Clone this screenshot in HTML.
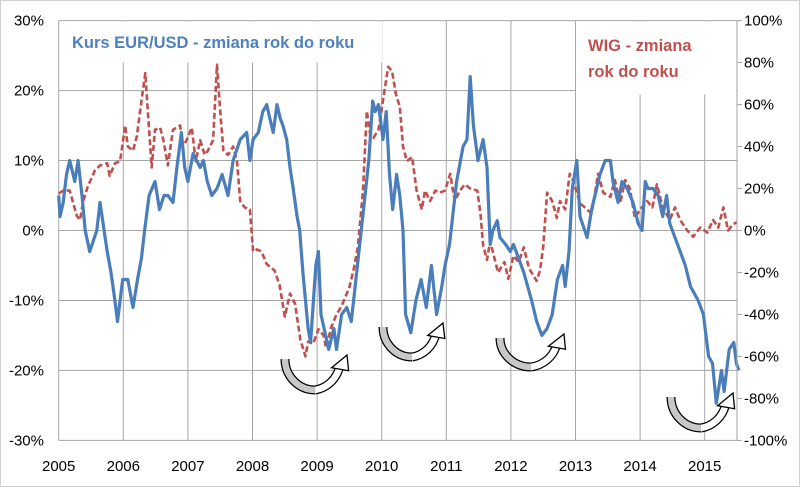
<!DOCTYPE html>
<html><head><meta charset="utf-8"><style>
html,body{margin:0;padding:0;background:#fff;}
svg{display:block;font-family:"Liberation Sans",sans-serif;}
</style></head><body>
<svg id="chart" width="800" height="487" viewBox="0 0 800 487">
<rect x="0.5" y="0.5" width="799" height="486" fill="#fff" stroke="#d0d0d0"/>
<g id="grid"></g>
<g id="series"></g>
<g id="axes"></g>
<g id="annot"></g>
</svg>
<script>
const years = [2005,2006,2007,2008,2009,2010,2011,2012,2013,2014,2015];
const leftTicks = [30,20,10,0,-10,-20,-30];
const rightTicks = [100,80,60,40,20,0,-20,-40,-60,-80,-100];
const eurDates = [2005.0,2005.02,2005.07,2005.12,2005.17,2005.25,2005.3,2005.36,2005.41,2005.48,2005.59,2005.64,2005.75,2005.81,2005.87,2005.91,2005.95,2005.99,2006.07,2006.15,2006.22,2006.28,2006.33,2006.4,2006.49,2006.56,2006.63,2006.69,2006.77,2006.83,2006.9,2006.95,2007.0,2007.08,2007.19,2007.24,2007.3,2007.37,2007.45,2007.53,2007.62,2007.7,2007.81,2007.91,2007.96,2008.01,2008.09,2008.16,2008.22,2008.27,2008.32,2008.38,2008.43,2008.47,2008.53,2008.58,2008.63,2008.69,2008.73,2008.78,2008.86,2008.9,2008.98,2009.02,2009.06,2009.18,2009.26,2009.3,2009.38,2009.46,2009.53,2009.6,2009.66,2009.73,2009.8,2009.86,2009.9,2009.95,2010.02,2010.07,2010.12,2010.17,2010.23,2010.28,2010.33,2010.37,2010.45,2010.53,2010.61,2010.69,2010.77,2010.85,2010.93,2010.98,2011.05,2011.16,2011.26,2011.32,2011.37,2011.42,2011.49,2011.57,2011.63,2011.68,2011.72,2011.79,2011.83,2011.92,2011.99,2012.04,2012.12,2012.2,2012.32,2012.4,2012.48,2012.56,2012.64,2012.72,2012.8,2012.84,2012.9,2012.95,2013.02,2013.07,2013.18,2013.25,2013.38,2013.46,2013.54,2013.58,2013.66,2013.72,2013.8,2013.89,2013.97,2014.03,2014.08,2014.12,2014.2,2014.28,2014.35,2014.41,2014.46,2014.54,2014.62,2014.7,2014.78,2014.9,2014.98,2015.06,2015.12,2015.18,2015.26,2015.3,2015.38,2015.45,2015.49,2015.53];
const eurValues = [5,2,4,8,10,7,10,5,0,-3,0,4,-3,-6,-10,-13,-10,-7,-7,-11,-7,-4,0,5,7,3,5,5,4,9,14,9,7,11,9,10,7,5,6,8,5,10,13,14,10,13,14,17,18,16,14,18,16,15,13,9,6,2,0,-6,-14,-16,-5,-3,-12,-17,-14,-17,-12,-11,-13,-7,-2,4,10,18.5,17,18,13,17,8,3,8,5,0,-12,-14.6,-10,-7,-11,-5,-12,-8,-5,-2,7,12,13,22,15,10,13,9,-2,0,1.4,-1,-2,-3,-2,-4,-6,-10,-13,-15,-14,-12,-7,-5,-8,-3,6,10,2,-1,3,8,10,10,7,4,7,6,4,1,0,7,6,6,5,2,5,1,-1,-3,-5,-8,-10,-12,-18,-19,-24.7,-20,-23,-17,-16,-19,-20];
const wigDates = [2005.0,2005.07,2005.17,2005.28,2005.33,2005.38,2005.45,2005.56,2005.64,2005.75,2005.79,2005.87,2005.95,2006.03,2006.07,2006.15,2006.21,2006.26,2006.34,2006.38,2006.44,2006.49,2006.57,2006.62,2006.69,2006.77,2006.88,2006.92,2006.98,2007.06,2007.12,2007.19,2007.26,2007.31,2007.39,2007.45,2007.5,2007.55,2007.62,2007.7,2007.76,2007.81,2007.88,2007.96,2008.01,2008.07,2008.14,2008.22,2008.34,2008.42,2008.5,2008.58,2008.66,2008.74,2008.82,2008.86,2008.94,2009.02,2009.1,2009.14,2009.22,2009.3,2009.38,2009.5,2009.57,2009.63,2009.71,2009.77,2009.82,2009.87,2009.95,2010.02,2010.1,2010.16,2010.22,2010.28,2010.33,2010.39,2010.47,2010.54,2010.62,2010.67,2010.75,2010.83,2010.9,2010.98,2011.06,2011.13,2011.21,2011.29,2011.37,2011.48,2011.53,2011.57,2011.63,2011.68,2011.72,2011.8,2011.9,2011.96,2012.04,2012.12,2012.2,2012.28,2012.4,2012.45,2012.5,2012.56,2012.64,2012.71,2012.76,2012.84,2012.91,2012.96,2013.07,2013.18,2013.25,2013.35,2013.43,2013.54,2013.61,2013.69,2013.77,2013.84,2013.92,2014.0,2014.11,2014.19,2014.26,2014.35,2014.46,2014.54,2014.62,2014.73,2014.82,2014.93,2015.04,2015.13,2015.21,2015.29,2015.36,2015.44,2015.5];
const wigValues = [17.6,19,19,7,5,14,21,28.6,31,32,26,32,33,50,40,38,45,57,75,57,30,48,49,43,31,48,50,40,43,49,33,43,36,38,43,79,57,38,36,40,33,14,11,10,-10,-9,-10,-16,-19,-26,-41,-30,-35,-52,-60,-53,-54,-47,-50,-56,-46,-40,-36,-27,-18,-8,19,57,46,44,48,62,78,76,65,59,40,33,35,19,10,19,14,19,18,19,27,14,19,22,20,19,8,-7,-14,-5,-10,-20,-15,-23,-12,-15,-8,-18,-24,-19,-8,18,14,6,14,10,27,24,13,10,8,27,18,16,24,13,24,20,6,10,14,11,22,11,5,11,5,0,-3,1.4,-1,5,1.4,11,0,3,4];

const NS='http://www.w3.org/2000/svg';
const X0=58.7, YW=64.6, PT=20.7, PB=440.5, PR=737;
function xs(t){return X0+(t-2005)*YW;}
function yl(v){return 230.5-(v)*(PB-PT)/60;}
function yr(v){return 230.5-(v)*(PB-PT)/200;}
function mk(tag,attrs,parent){const e=document.createElementNS(NS,tag);for(const k in attrs)e.setAttribute(k,attrs[k]);parent.appendChild(e);return e;}
const grid=document.getElementById('grid'),series=document.getElementById('series'),axes=document.getElementById('axes'),annot=document.getElementById('annot');

leftTicks.forEach(v=>{
  const l=mk('line',{x1:X0,x2:PR,y1:yl(v),y2:yl(v),stroke:'#a6a6a6','stroke-width':1},grid);
  
  
  const t=mk('text',{x:44,y:yl(v)+5,'text-anchor':'end','font-size':15,fill:'#000'},axes);
  t.textContent=v+'%';
  
  
});
years.forEach(y=>{
  const l=mk('line',{x1:xs(y),x2:xs(y),y1:PT,y2:PB,stroke:'#a6a6a6','stroke-width':1},grid);
  
  
  const t=mk('text',{x:xs(y),y:471,'text-anchor':'middle','font-size':15,fill:'#000'},axes);
  t.textContent=y;
  
  
});
rightTicks.forEach(v=>{
  const t=mk('text',{x:744,y:yr(v)+5,'text-anchor':'start','font-size':15,fill:'#000'},axes);
  t.textContent=v+'%';
  
  
  const k=mk('line',{x1:PR,x2:PR+5,y1:yr(v),y2:yr(v),stroke:'#a6a6a6'},axes);
  
  
});
const ra=mk('line',{x1:PR,x2:PR,y1:PT,y2:PB,stroke:'#a6a6a6'},axes);


// legend boxes
const lb1=mk('rect',{x:60,y:21.5,width:322,height:41,fill:'#fff'},grid);


const lb2=mk('rect',{x:576,y:21.5,width:160,height:73,fill:'#fff'},grid);



// series
let d='';eurDates.forEach((t,i)=>{d+=(i?'L':'M')+xs(t).toFixed(1)+' '+yl(eurValues[i]).toFixed(1);});
let dw='';wigDates.forEach((t,i)=>{dw+=(i?'L':'M')+xs(t).toFixed(1)+' '+yr(wigValues[i]).toFixed(1);});
const pw=mk('path',{d:dw,fill:'none',stroke:'#c0504d','stroke-width':2.6,'stroke-dasharray':'6 3','stroke-linejoin':'round'},series);


const pe=mk('path',{d:d,fill:'none',stroke:'#4a7ebb','stroke-width':3.2,'stroke-linejoin':'round'},series);



const t1=mk('text',{x:72,y:48,'font-size':16.5,'font-weight':'bold',fill:'#4f81bd'},annot);
t1.textContent='Kurs EUR/USD - zmiana rok do roku';


const t2=mk('text',{x:588,y:51,'font-size':16.5,'font-weight':'bold',fill:'#c0504d'},annot);
t2.textContent='WIG - zmiana';


const t3=mk('text',{x:588,y:77,'font-size':16.5,'font-weight':'bold',fill:'#c0504d'},annot);
t3.textContent='rok do roku';



// U-turn arrows
function arrow(cx,cy,rx,ry){
  const g=mk('g',{},annot);
  
  
  const gray='M'+(cx-rx)+' '+cy+' A'+rx+' '+ry+' 0 0 0 '+cx+' '+(cy+ry);
  const ex=cx+rx*0.82, ey=cy+ry*0.25;
  const white='M'+cx+' '+(cy+ry)+' A'+rx+' '+ry+' 0 0 0 '+ex+' '+ey;
  mk('path',{d:gray,fill:'none',stroke:'#000','stroke-width':9},g);
  mk('path',{d:gray,fill:'none',stroke:'#c8c8c8','stroke-width':6.5},g);
  mk('path',{d:white,fill:'none',stroke:'#000','stroke-width':9},g);
  mk('path',{d:white,fill:'none',stroke:'#fff','stroke-width':6.5},g);
  const tx=cx+rx+2, ty=cy-4;
  mk('polygon',{points:(ex-8)+','+(ey+1)+' '+(ex+9)+','+(ey+4)+' '+tx+','+ty,fill:'#fff',stroke:'#000','stroke-width':1.3,'stroke-linejoin':'miter'},g);
}
arrow(315,359,30,31);
arrow(412,327,29,30);
arrow(531,338,31,29);
arrow(701,397,30,31);
</script>
</body></html>
